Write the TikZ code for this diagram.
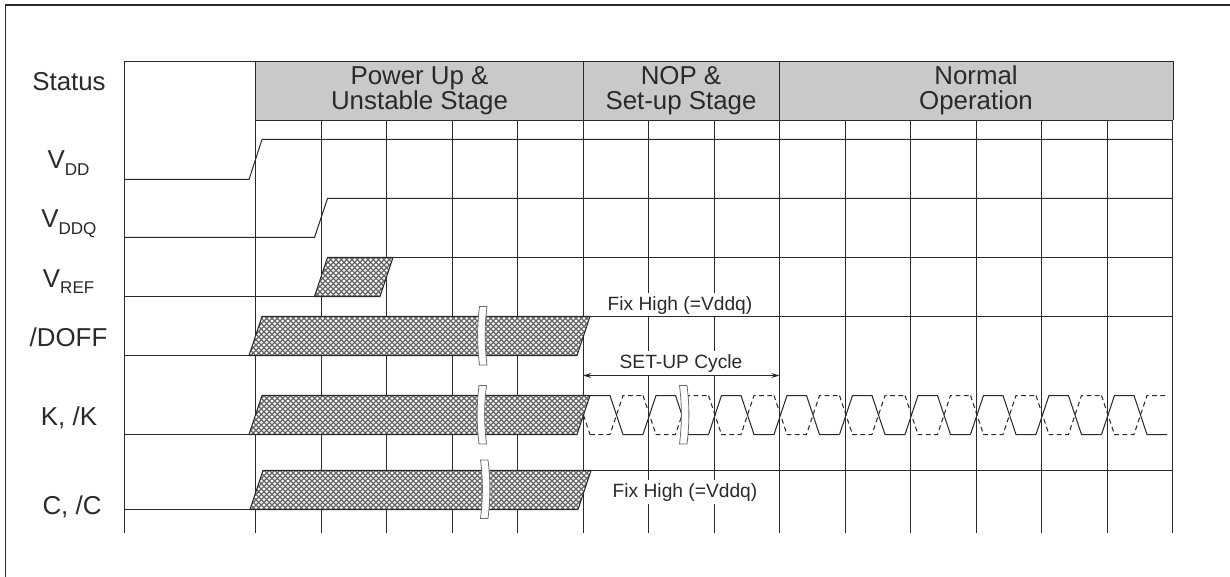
\documentclass[tikz,border=0pt]{standalone}
\usepackage{fontspec}
\setmainfont{Liberation Sans}
\usetikzlibrary{patterns,arrows.meta}
\pgfdeclarepatternformonly{cellhatch}{\pgfqpoint{-1.3pt}{-1.3pt}}{\pgfqpoint{4.6pt}{4.6pt}}{\pgfqpoint{4pt}{4pt}}{
  \pgfpathmoveto{\pgfqpoint{-1.15pt}{0pt}}\pgfpathlineto{\pgfqpoint{0pt}{1.15pt}}\pgfpathlineto{\pgfqpoint{1.15pt}{0pt}}\pgfpathlineto{\pgfqpoint{0pt}{-1.15pt}}\pgfpathclose
  \pgfpathmoveto{\pgfqpoint{0.85pt}{2pt}}\pgfpathlineto{\pgfqpoint{2pt}{3.15pt}}\pgfpathlineto{\pgfqpoint{3.15pt}{2pt}}\pgfpathlineto{\pgfqpoint{2pt}{0.85pt}}\pgfpathclose
  \pgfusepath{fill}}
\definecolor{ink}{HTML}{2A2A2A}
\definecolor{headgray}{HTML}{C8C9CB}
\definecolor{hatchgray}{HTML}{666666}
\newcommand{\bigfont}{\fontsize{19.4pt}{19.4pt}\selectfont}
\newcommand{\smallfont}{\fontsize{14.4pt}{14.4pt}\selectfont}
\newcommand{\subfont}{\fontsize{12.8pt}{12.8pt}\selectfont}
\newcommand{\vsub}[1]{V\raisebox{-4.8pt}{\subfont #1}}
\newcommand{\hatched}[4]{% x of low-left, y of high, y of low, x of low-right
  \path[hatchfill] (#1,#3) -- ++(13,#2-#3) -- (#4+13,#2) -- (#4,#3) -- cycle;}
\newcommand{\breakmark}[3]{% x, top y, bend
  \draw[breakline] (#1,#2) -- ++(7.5,0) .. controls (#1+7.5+#3,#2+20) and (#1+7.5+#3,#2+38) .. (#1+7.5,#2+58.5)
    -- (#1,#2+58.5) .. controls (#1+#3,#2+38) and (#1+#3,#2+20) .. cycle;}
\tikzset{
  gridline/.style={draw=ink,line width=0.75pt},
  sigline/.style={draw=ink,line width=0.75pt},
  dashline/.style={draw=ink,line width=0.75pt,dash pattern=on 3.6pt off 2.6pt},
  hatchfill/.style={draw=ink,line width=0.8pt,preaction={fill=hatchgray},pattern=cellhatch,pattern color=white},
  breakline/.style={draw=ink!70,line width=0.6pt,fill=white},
  biglabel/.style={anchor=base,font=\bigfont,text=ink,inner sep=0pt},
  vlabel/.style={biglabel,anchor=base west},
  smalllabel/.style={anchor=base,font=\smallfont,text=ink,fill=white,inner xsep=1pt,inner ysep=2.2pt},
}
\begin{document}
\begin{tikzpicture}[x=0.75pt,y=-0.75pt]
\useasboundingbox (0,0) rectangle (1230,577);
\fill[white] (0,0) rectangle (1230,577);
% outer frame (left and top only)
\draw[draw=ink,line width=0.85pt] (5.5,577) -- (5.5,5) -- (1230,5);
% header
\fill[headgray] (255.5,61.5) rectangle (1173,120.5);
% grid
\foreach \i in {1,...,14}{
  \draw[gridline] ({255.5+65.5*\i},120.5) -- ({255.5+65.5*\i},533);
}
\draw[gridline] (124.5,533) -- (124.5,61.5) -- (1173,61.5);
\draw[gridline] (255.5,61.5) -- (255.5,533);
\draw[gridline] (583,61.5) -- (583,120.5);
\draw[gridline] (779.5,61.5) -- (779.5,120.5);
\draw[gridline] (1173,61.5) -- (1173,120.5);
\draw[gridline] (255.5,120.5) -- (1173,120.5);
% signals
\draw[sigline] (124.5,179.5) -- (249,179.5) -- (262,139.5) -- (1173,139.5);
\draw[sigline] (124.5,237.5) -- (314.5,237.5) -- (327.5,198.5) -- (1173,198.5);
\draw[sigline] (124.5,296.5) -- (315,296.5);
\draw[sigline] (392,257.5) -- (1173,257.5);
\hatched{314.5}{257.5}{296.5}{380}
\draw[sigline] (124.5,355.5) -- (250,355.5);
\hatched{249}{316.5}{355.5}{577}
\draw[sigline] (124.5,434.5) -- (250,434.5);
\draw[sigline] (124.5,509.5) -- (250,509.5);
\draw[sigline] (588,470.5) -- (1173,470.5);
\hatched{250}{470.5}{509.5}{578}
% K wave
\foreach \k in {0,...,8}{
  \pgfmathsetmacro{\ox}{65.5*\k}
  \draw[sigline] (590+\ox,395.5) -- (610+\ox,395.5) -- (623+\ox,434.5) -- (643+\ox,434.5);
  \draw[dashline] (590+\ox,434.5) -- (610+\ox,434.5) -- (623+\ox,395.5) -- (643+\ox,395.5);
}
\foreach \k in {0,...,7}{
  \pgfmathsetmacro{\ox}{65.5*\k}
  \draw[sigline] (643+\ox,434.5) -- (656+\ox,395.5);
  \draw[dashline] (643+\ox,395.5) -- (656+\ox,434.5);
}
\draw[dashline] (583.5,415) -- (590,434.5);
\hatched{249}{395.5}{434.5}{577}
% breaks
\breakmark{479.5}{306.5}{-2.5}
\breakmark{479}{385.5}{-2.5}
\breakmark{480.5}{460}{2.5}
\breakmark{679.5}{385.5}{2.5}
% texts
\node[biglabel] (status) at (69,90.5) {Status};
\node[vlabel] (vdd) at (47.3,168.7) {\vsub{DD}};
\node[vlabel] (vddq) at (41,228) {\vsub{DDQ}};
\node[vlabel] (vref) at (42.7,287.3) {\vsub{REF}};
\node[biglabel] (doff) at (68.5,346) {/DOFF};
\node[biglabel] (kk) at (69,425.3) {K, /K};
\node[biglabel] (cc) at (72,514.5) {C, /C};
\node[biglabel] (h1a) at (419.5,85) {Power Up \&};
\node[biglabel] (h1b) at (419.5,110) {Unstable Stage};
\node[biglabel] (h2a) at (681,85) {NOP \&};
\node[biglabel] (h2b) at (681,110) {Set-up Stage};
\node[biglabel] (h3a) at (976,85) {Normal};
\node[biglabel] (h3b) at (976,110) {Operation};
\node[smalllabel] (fix1) at (680,310) {Fix High (=Vddq)};
\node[smalllabel] (setup) at (681,368) {SET-UP Cycle};
\node[smalllabel] (fix2) at (685,497) {Fix High (=Vddq)};
% line under the first label stays visible
\draw[sigline] (588,316.5) -- (1173,316.5);
% set-up arrow
\coordinate (arrL) at (583,375.5);
\coordinate (arrR) at (779.5,375.5);
\draw[draw=ink,line width=0.7pt,{Stealth[length=6pt,width=3.6pt]}-{Stealth[length=6pt,width=3.6pt]}] (arrL) -- (arrR);
\end{tikzpicture}
\end{document}
